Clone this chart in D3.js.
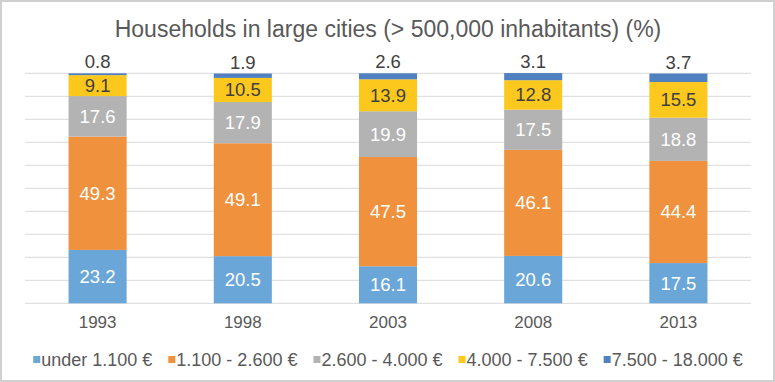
<!DOCTYPE html>
<html><head><meta charset="utf-8">
<script src="https://cdn.jsdelivr.net/npm/d3@7"></script>
<style>body{margin:0;background:#fff}svg{display:block;font-family:"Liberation Sans",Arial,sans-serif}</style>
</head><body><svg id="c" width="775" height="382"></svg>
<script>
const years = ["1993","1998","2003","2008","2013"];
const seriesNames = ["under 1.100 €","1.100 - 2.600 €","2.600 - 4.000 €","4.000 - 7.500 €","7.500 - 18.000 €"];
const under1100 = [23.2,20.5,16.1,20.6,17.5];
const r1100_2600 = [49.3,49.1,47.5,46.1,44.4];
const r2600_4000 = [17.6,17.9,19.9,17.5,18.8];
const r4000_7500 = [9.1,10.5,13.9,12.8,15.5];
const r7500_18000 = [0.8,1.9,2.6,3.1,3.7];
const yTicks = [0,10,20,30,40,50,60,70,80,90,100];
const colors = ["#6aa7d8","#f0913e","#b3b3b3","#fdc81d","#4f81c0"];
const labelColors = ["#fff","#fff","#fff","#404040","#404040"];

const svg = d3.select("#c");
svg.append("rect").attr("x",1).attr("y",1).attr("width",773).attr("height",380)
  .attr("fill","#fff").attr("stroke","#d0d0d0").attr("stroke-width",2);

const x = d3.scaleBand().domain(years).range([25,751]).paddingInner(0.6).paddingOuter(0.3);
const y = d3.scaleLinear().domain([0,100]).range([303.3,73.3]);

svg.append("text").attr("x",388).attr("y",37).attr("text-anchor","middle")
  .attr("font-size",23).attr("fill","#595959")
  .text("Households in large cities (> 500,000 inhabitants) (%)");

svg.append("g").selectAll("line").data(yTicks).join("line")
  .attr("x1",25).attr("x2",751).attr("y1",d=>y(d)).attr("y2",d=>y(d))
  .attr("stroke","#d9d9d9").attr("stroke-width",1);

const rows = years.map((yr,i)=>({year:yr,s0:under1100[i],s1:r1100_2600[i],s2:r2600_4000[i],s3:r4000_7500[i],s4:r7500_18000[i]}));
const stack = d3.stack().keys(["s0","s1","s2","s3","s4"])(rows);

stack.forEach((layer,k)=>{
  const g = svg.append("g");
  g.selectAll("rect").data(layer).join("rect")
    .attr("x",d=>x(d.data.year)).attr("width",x.bandwidth())
    .attr("y",d=>y(d[1])).attr("height",d=>y(d[0])-y(d[1]))
    .attr("fill",colors[k]);
  g.selectAll("text").data(layer).join("text")
    .attr("x",d=>x(d.data.year)+x.bandwidth()/2)
    .attr("y",d=> k===4 ? y(d[1])-5 : (y(d[0])+y(d[1]))/2+6.5)
    .attr("text-anchor","middle").attr("font-size",18.5)
    .attr("fill",labelColors[k])
    .text(d=>d3.format(".1f")(d.data["s"+k]));
});

const xAxis = svg.append("g").attr("transform","translate(0,303.3)")
  .call(d3.axisBottom(x).tickSize(0).tickPadding(13));
xAxis.select(".domain").remove();
xAxis.selectAll("text").attr("font-size",17).attr("fill","#595959")
  .attr("font-family","Liberation Sans, Arial, sans-serif");

// legend
const lg = svg.append("g");
const items = lg.selectAll("g").data(seriesNames).join("g");
items.append("rect").attr("width",7).attr("height",7).attr("y",-9.5).attr("fill",(d,i)=>colors[i]);
items.append("text").attr("x",8).attr("font-size",18).attr("fill","#595959").text(d=>d);
let cx = 0; const offs=[];
items.each(function(d,i){ const w = 8 + this.querySelector("text").getComputedTextLength(); offs.push(cx); cx += w + 16; });
const total = cx - 16;
const start = 388 - total/2;
items.attr("transform",(d,i)=>`translate(${start+offs[i]},${365.5})`);
</script></body></html>
